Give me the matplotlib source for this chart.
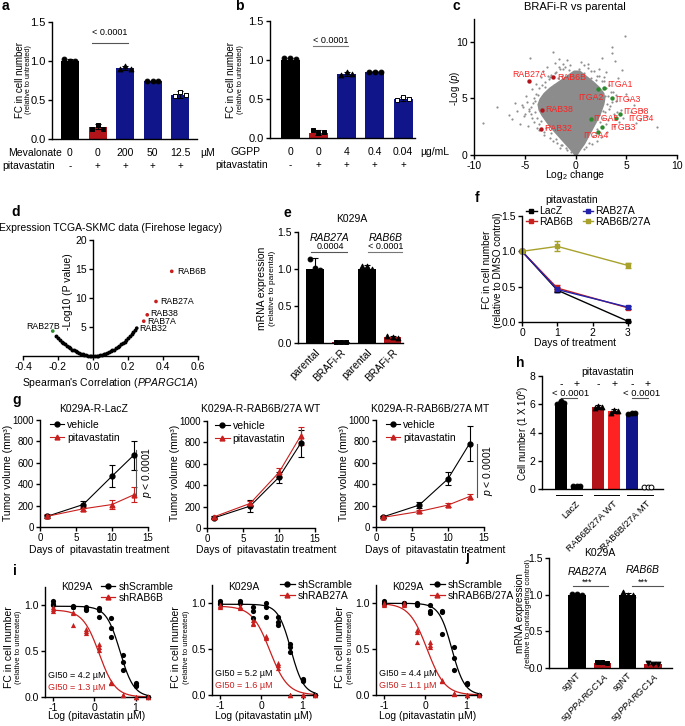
import numpy as np
import matplotlib
matplotlib.use("Agg")
import matplotlib.pyplot as plt
from matplotlib.lines import Line2D

plt.rcParams['font.family'] = ['Liberation Sans', 'DejaVu Sans']
plt.rcParams['font.size'] = 7.5
plt.rcParams['axes.unicode_minus'] = False
plt.rcParams['axes.linewidth'] = 1.0
plt.rcParams['xtick.major.size'] = 3
plt.rcParams['ytick.major.size'] = 3
plt.rcParams['xtick.major.width'] = 1.0
plt.rcParams['ytick.major.width'] = 1.0
plt.rcParams['xtick.major.pad'] = 1.5
plt.rcParams['ytick.major.pad'] = 1.5
plt.rcParams['xtick.labelsize'] = 7.5
plt.rcParams['ytick.labelsize'] = 7.5
plt.rcParams['mathtext.fontset'] = 'custom'
plt.rcParams['mathtext.rm'] = 'Liberation Sans'
plt.rcParams['mathtext.it'] = 'Liberation Sans:italic'

BLACK = 'k'
DRED = '#b3141a'
NAVY = '#10168a'
RED = '#c8201e'
BRED = '#ff2222'
OLIVE = '#a8a22c'
BLUE = '#2222aa'
GREEN = '#2b8a2b'

# ---- a: mevalonate rescue
a_mev = ['0', '0', '200', '50', '12.5']
a_pita = ['-', '+', '+', '+', '+']
a_mean = [1.0, 0.16, 0.91, 0.74, 0.57]
a_err = [0.02, 0.03, 0.03, 0.01, 0.04]
a_reps = [[1.02, 1.0, 1.0], [0.13, 0.18, 0.13], [0.9, 0.93, 0.9], [0.74, 0.74, 0.74], [0.55, 0.6, 0.57]]

# ---- b: GGPP rescue
b_ggpp = ['0', '0', '4', '0.4', '0.04']
b_pita = ['-', '+', '+', '+', '+']
b_mean = [1.0, 0.07, 0.82, 0.85, 0.5]
b_err = [0.02, 0.03, 0.03, 0.01, 0.02]
b_reps = [[1.03, 1.02, 1.01], [0.1, 0.07, 0.08], [0.81, 0.85, 0.82], [0.85, 0.85, 0.85], [0.49, 0.52, 0.5]]

# ---- c: volcano (dense core envelope + scattered proteins)
c_core_y = [0, 0.5, 1, 1.5, 2, 2.5, 3, 3.5, 4, 4.5, 5, 5.5, 6, 6.5, 7, 7.5]
c_core_left = [-0.15, -0.6, -1.1, -1.6, -2.1, -2.6, -3.0, -3.4, -3.7, -3.8, -3.6, -3.2, -2.6, -1.8, -1.0, -0.2]
c_core_right = [0.15, 0.5, 0.9, 1.2, 1.5, 1.8, 2.1, 2.4, 2.6, 2.8, 2.9, 2.8, 2.4, 1.8, 1.1, 0.4]
c_gx = [-9.1, -7.7, -6.6, -6.0, -6.3, -5.8, -5.5, -5.3, -5.1, -4.9, -4.7, -4.6, -4.5, -4.4, -4.3,
        -4.1, -4.0, -3.9, -3.8, -3.7, -3.6, -3.5, -3.4, -3.3, -3.2, -3.1, -3.0, -2.9, -2.8, -2.7,
        -2.6, -2.5, -2.4, -2.3, -2.2, -2.1, -2.0, -1.9, -1.8, -1.7, -1.6, -1.5, -1.4, -1.3, -1.2,
        -1.0, -0.9, -0.8, -0.6, -0.4,
        0.3, 0.5, 0.8, 1.0, 1.2, 1.5, 1.6, 1.8, 2.0, 2.1, 2.3, 2.6, 2.5, 2.8, 3.0, 3.1, 3.3, 3.6,
        3.6, 3.4, 3.7, 3.8, 3.9, 4.0, 4.2, 4.3, 4.5, 4.6, 4.7, 4.9, 5.0, 5.2, 5.3, 5.5, 5.8, 6.0,
        6.4, 6.6, 7.0, 8.0, 2.9, 3.2, 4.1, 2.7,
        -4.0, -4.2, -3.9, -3.6, -3.0, -2.5, -2.0, -1.2, -0.5, -3.4, -2.9, -2.4, -1.9, -1.3, -0.8,
        -4.4, -4.1, -3.3, -2.7, -1.6, -3.6, -3.1, -2.2, -1.5, -4.6, -4.8, -4.3, -3.8, -5.0, -5.2,
        2.9, 3.1, 3.2, 3.0, 2.6, 2.1, 1.5, 0.8, 2.4, 2.1, 1.7, 1.3, 0.8, 3.3, 3.5, 2.8, 2.3, 1.2,
        2.7, 2.0, 3.6, 3.8, 3.0, 4.0]
c_gy = [2.8, 4.2, 3.5, 4.6, 3.2, 3.9, 2.7, 4.4, 3.4, 5.2, 2.6, 4.1, 8.6, 3.6, 5.8,
        2.9, 4.8, 6.3, 3.3, 5.3, 2.2, 4.5, 6.9, 5.0, 7.4, 1.8, 6.0, 4.4, 7.8, 5.6,
        6.7, 1.5, 7.1, 5.2, 9.1, 6.2, 8.1, 7.3, 1.1, 6.8, 8.5, 7.6, 0.9, 7.0, 8.0,
        7.8, 0.6, 8.4, 7.5, 0.3,
        7.6, 8.2, 7.2, 0.7, 7.7, 6.8, 1.0, 7.4, 6.6, 1.2, 7.0, 8.6, 1.6, 6.5, 7.3, 2.0, 6.2, 9.5,
        9.0, 4.3, 5.6, 2.6, 8.3, 4.8, 6.8, 2.9, 4.0, 7.5, 3.3, 10.5, 5.4, 4.9, 2.4, 3.8, 4.4, 2.8,
        3.1, 4.0, 3.4, 2.5, 5.2, 3.1, 3.8, 3.9,
        3.8, 4.6, 5.4, 5.9, 6.4, 6.9, 7.2, 7.6, 7.9, 3.0, 2.4, 1.9, 1.4, 0.9, 0.4,
        4.2, 5.0, 6.2, 7.0, 7.8, 2.7, 2.0, 1.2, 0.6, 3.9, 4.7, 3.3, 2.4, 3.6, 4.2,
        3.8, 4.5, 5.2, 5.9, 6.5, 7.0, 7.4, 7.9, 2.9, 2.3, 1.7, 1.1, 0.5, 4.1, 5.6, 6.9, 7.6, 8.0,
        3.3, 1.9, 4.7, 3.6, 2.7, 5.3]
c_rab_names = ['RAB27A', 'RAB6B', 'RAB38', 'RAB32']
c_rab_x = [-4.6, -2.2, -3.3, -3.4]
c_rab_y = [6.5, 6.9, 4.0, 2.3]
c_itg_names = ['ITGA1', 'ITGA2', 'ITGA3', 'ITGB8', 'ITGB4', 'ITGA5', 'ITGB3', 'ITGA4']
c_itg_x = [2.8, 2.2, 3.6, 4.4, 4.0, 1.5, 2.6, 2.2]
c_itg_y = [5.9, 5.8, 5.0, 3.6, 3.3, 3.2, 2.5, 2.0]

# ---- d: TCGA correlation
d_corr = [-0.21, -0.20, -0.19, -0.18, -0.17, -0.16, -0.15, -0.14, -0.13, -0.12, -0.11, -0.10,
          -0.09, -0.08, -0.07, -0.06, -0.05, -0.04, -0.03, -0.02, -0.01, 0.0, 0.01, 0.02, 0.03,
          0.04, 0.05, 0.06, 0.07, 0.08, 0.09, 0.10, 0.11, 0.12, 0.13, 0.14, 0.15, 0.16, 0.17,
          0.18, 0.19, 0.20, 0.21, 0.22, 0.23, 0.24]
d_logp = [3.4, 3.1, 2.8, 2.5, 2.25, 2.0, 1.75, 1.5, 1.3, 1.1, 0.95, 0.78,
          0.63, 0.5, 0.38, 0.28, 0.2, 0.12, 0.07, 0.03, 0.01, 0.0, 0.01, 0.03, 0.07,
          0.12, 0.2, 0.28, 0.38, 0.5, 0.63, 0.78, 0.95, 1.1, 1.3, 1.5, 1.75, 2.0, 2.25,
          2.5, 2.8, 3.1, 3.4, 3.8, 4.1, 4.5]
d_hl_names = ['RAB6B', 'RAB27A', 'RAB38', 'RAB7A', 'RAB32', 'RAB27B']
d_hl_corr = [0.45, 0.36, 0.31, 0.29, 0.25, -0.23]
d_hl_logp = [14.6, 9.4, 7.1, 6.0, 4.8, 4.3]

# ---- e: qPCR parental vs BRAFi-R
e_labels = ['parental', 'BRAFi-R', 'parental', 'BRAFi-R']
e_mean = [1.0, 0.02, 1.0, 0.08]
e_err = [0.15, 0.01, 0.06, 0.02]
e_reps = [[1.13, 1.02, 0.98], [0.02, 0.02, 0.02], [1.04, 1.04, 1.0], [0.09, 0.08, 0.07]]

# ---- f: time course
f_days = [0, 1, 3]
f_names = ['LacZ', 'RAB6B', 'RAB27A', 'RAB6B/27A']
f_vals = [[1.0, 0.45, 0.01], [1.0, 0.48, 0.2], [1.0, 0.46, 0.21], [1.0, 1.07, 0.8]]
f_errs = [[0, 0.02, 0.01], [0, 0.04, 0.02], [0, 0.03, 0.02], [0, 0.07, 0.04]]

# ---- g: xenografts
g_days = [1, 6, 10, 13]
g_titles = ['K029A-R-LacZ', 'K029A-R-RAB6B/27A WT', 'K029A-R-RAB6B/27A MT']
g_veh = [[100, 210, 475, 670], [95, 205, 475, 790], [95, 205, 450, 780]]
g_veh_err = [[15, 35, 105, 135], [15, 55, 50, 130], [10, 30, 60, 160]]
g_pit = [[100, 170, 210, 300], [105, 230, 520, 860], [90, 145, 205, 285]]
g_pit_err = [[20, 20, 45, 70], [10, 20, 45, 80], [10, 15, 20, 25]]

# ---- h: cell numbers
h_groups = ['LacZ', 'RAB6B/27A WT', 'RAB6B/27A MT']
h_treat = ['-', '+', '-', '+', '-', '+']
h_mean = [6.1, 0.2, 5.8, 5.5, 5.3, 0.15]
h_err = [0.1, 0.02, 0.15, 0.15, 0.08, 0.02]
h_reps = [[6.05, 6.2, 6.1], [0.2, 0.2, 0.2], [5.75, 5.9, 5.8], [5.4, 5.6, 5.5], [5.3, 5.4, 5.35], [0.15, 0.15, 0.15]]

# ---- i: dose response
i_logc = [-1, -0.52, -0.2, 0.1, 0.4, 0.7, 1.0, 1.3]
i_kd_names = ['shRAB6B', 'shRAB27A', 'shRAB6B/27A']
i_scr = [
    [[1.05, 1.02, 1.0], [0.99, 0.98, 0.98], [0.98, 0.96, 0.95], [0.97, 0.95, 0.87], [0.86, 0.75, 0.65],
     [0.46, 0.38, 0.3], [0.15, 0.13, 0.12], [0.0, 0.0, 0.0]],
    [[1.03, 1.0, 0.99], [1.03, 1.0, 1.0], [0.96, 0.92, 0.84], [1.0, 0.96, 0.85], [0.85, 0.8, 0.76],
     [0.56, 0.52, 0.47], [0.17, 0.16, 0.15], [0.0, 0.0, 0.0]],
    [[1.03, 1.0, 0.99], [1.0, 1.0, 0.99], [1.0, 0.99, 0.98], [0.98, 0.92, 0.9], [0.92, 0.91, 0.67],
     [0.52, 0.4, 0.27], [0.13, 0.12, 0.12], [0.0, 0.0, 0.0]],
]
i_kd = [
    [[0.98, 0.96, 0.94], [0.93, 0.92, 0.79], [0.74, 0.72, 0.7], [0.58, 0.55, 0.51], [0.16, 0.15, 0.15],
     [0.02, 0.02, 0.02], [0.0, 0.0, 0.0], [0.0, 0.0, 0.0]],
    [[0.98, 0.97, 0.96], [0.97, 0.96, 0.95], [0.82, 0.79, 0.77], [0.64, 0.63, 0.62], [0.35, 0.33, 0.3],
     [0.0, 0.0, 0.0], [0.0, 0.0, 0.0], [0.0, 0.0, 0.0]],
    [[1.0, 0.99, 0.98], [1.0, 0.99, 0.98], [0.71, 0.69, 0.58], [0.58, 0.55, 0.52], [0.16, 0.15, 0.15],
     [0.02, 0.01, 0.01], [0.0, 0.0, 0.0], [0.0, 0.0, 0.0]],
]
# fitted curve parameters: top, GI50 (uM), hill
i_scr_fit = [(0.99, 4.2, 2.6), (0.99, 5.2, 2.8), (1.0, 4.4, 2.8)]
i_kd_fit = [(0.95, 1.3, 2.2), (0.97, 1.6, 2.0), (1.0, 1.1, 2.0)]

# ---- j: sgPPARGC1A qPCR
j_labels = ['sgNT', 'sg$\\it{PPARGC1A}$', 'sgNT', 'sg$\\it{PPARGC1A}$']
j_mean = [1.0, 0.07, 1.0, 0.06]
j_err = [0.01, 0.01, 0.02, 0.01]
j_reps = [[1.01, 1.01, 1.0], [0.08, 0.08, 0.07], [1.03, 1.0, 1.0], [0.07, 0.05, 0.06]]

W, H = 685, 726
fig = plt.figure(figsize=(W / 100, H / 100), dpi=100)


def add_ax(x0, y0, x1, y1):
    ax = fig.add_axes([x0 / W, 1 - y1 / H, (x1 - x0) / W, (y1 - y0) / H])
    ax.spines['top'].set_visible(False)
    ax.spines['right'].set_visible(False)
    return ax


def ftext(x, y, s, **kw):
    kw.setdefault('ha', 'center')
    kw.setdefault('va', 'center')
    fig.text(x / W, 1 - y / H, s, **kw)


def ylab(x, y, main, sub=None, gap=10, fs=7, fs2=5.2):
    ftext(x, y, main, rotation=90, fontsize=fs)
    if sub:
        ftext(x + gap, y, sub, rotation=90, fontsize=fs2)


def draw_bars(ax, xs, means, errs, reps, colors, markers, fills, width, off=0.2):
    ax.bar(xs, means, width, color=colors, zorder=1)
    ax.errorbar(xs, means, yerr=errs, fmt='none', ecolor='k', elinewidth=0.8,
                capsize=2, capthick=0.8, zorder=2)
    for x, r, m, f in zip(xs, reps, markers, fills):
        ax.scatter(np.array([-off, 0, off]) + x, r, marker=m, s=12,
                   facecolor='k' if f else 'white', edgecolor='k', linewidth=0.7,
                   zorder=3, clip_on=False)


def hill(logc, top, gi50, n):
    return top / (1 + 10 ** ((logc - np.log10(gi50)) * n))


# panel letters
for s, x, y in [('a', 5, 6), ('b', 239, 6), ('c', 456, 6), ('d', 16, 212), ('e', 287, 213),
                ('f', 477, 198), ('g', 17, 400), ('h', 520, 363), ('i', 15, 571), ('j', 467, 557)]:
    ftext(x, y, s, fontsize=10, fontweight='bold')

# ---------------- a
ax = add_ax(52, 22, 197, 139)
xs = np.arange(len(a_mean))
draw_bars(ax, xs, a_mean, a_err, a_reps, [BLACK, DRED, NAVY, NAVY, NAVY],
          ['o', 's', '^', 'o', 's'], [1, 1, 1, 1, 0], 0.65)
ax.set_xlim(-0.65, 4.6)
ax.set_ylim(0, 1.5)
ax.set_yticks([0, 0.5, 1.0, 1.5])
ax.set_yticklabels(['0.0', '0.5', '1.0', '1.5'], fontsize=8)
ax.set_xticks([])
tr = ax.get_xaxis_transform()
for x, m, p in zip(xs, a_mev, a_pita):
    ax.text(x, -0.12, m, transform=tr, ha='center', va='center', fontsize=7.5)
    ax.text(x, -0.23, p, transform=tr, ha='center', va='center', fontsize=7)
ax.text(-0.3, -0.12, 'Mevalonate', transform=tr, ha='right', va='center', fontsize=7.5)
ax.text(-0.55, -0.23, 'pitavastatin', transform=tr, ha='right', va='center', fontsize=7.5)
ax.text(4.72, -0.12, 'µM', transform=tr, ha='left', va='center', fontsize=7.5)
ax.plot([0.8, 2.1], [1.23, 1.23], color='#555555', lw=0.8, clip_on=False)
ax.text(1.45, 1.36, '< 0.0001', ha='center', va='center', fontsize=6.5)
ylab(20, 80, 'FC in cell number', '(relative to untreated)', gap=9)

# ---------------- b
ax = add_ax(270, 21, 415, 138)
xs = np.arange(len(b_mean))
draw_bars(ax, xs, b_mean, b_err, b_reps, [BLACK, DRED, NAVY, NAVY, NAVY],
          ['o', 's', '^', 'o', 's'], [1, 1, 1, 1, 0], 0.67)
ax.set_xlim(-0.71, 4.42)
ax.set_ylim(0, 1.5)
ax.set_yticks([0, 0.5, 1.0, 1.5])
ax.set_yticklabels(['0.0', '0.5', '1.0', '1.5'], fontsize=8)
ax.set_xticks([])
tr = ax.get_xaxis_transform()
for x, m, p in zip(xs, b_ggpp, b_pita):
    ax.text(x, -0.12, m, transform=tr, ha='center', va='center', fontsize=7.5)
    ax.text(x, -0.23, p, transform=tr, ha='center', va='center', fontsize=7)
ax.text(-1.06, -0.12, 'GGPP', transform=tr, ha='right', va='center', fontsize=7.5)
ax.text(-0.8, -0.23, 'pitavastatin', transform=tr, ha='right', va='center', fontsize=7.5)
ax.text(4.6, -0.12, 'µg/mL', transform=tr, ha='left', va='center', fontsize=7.5)
ax.plot([0.8, 2.05], [1.18, 1.18], color='#777777', lw=0.8, clip_on=False)
ax.text(1.42, 1.25, '< 0.0001', ha='center', va='center', fontsize=6.5)
ylab(231, 80, 'FC in cell number', '(relative to untreated)', gap=9)

# ---------------- c
ax = add_ax(474, 19, 677, 155)
ax.fill_betweenx(c_core_y, c_core_left, c_core_right, color='#8c8c8c', lw=0, zorder=1)
ax.scatter(c_gx, c_gy, s=2.5, color='#8f8f8f', lw=0, zorder=1)
ax.scatter(c_rab_x, c_rab_y, s=10, color=DRED, lw=0, zorder=3)
ax.scatter(c_itg_x, c_itg_y, s=10, color=GREEN, lw=0, zorder=3)
c_rab_off = [((0, 7), 'center'), ((4, -1), 'left'), ((3, 0), 'left'), ((3, 0), 'left')]
c_itg_off = [((3, 4), 'left'), ((6, -8), 'right'), ((3, -1), 'left'), ((3, 3), 'left'),
             ((12, -1), 'left'), ((3, 0), 'left'), ((8, -1), 'left'), ((-2, -3), 'center')]
for n, x, y, (o, ha) in zip(c_rab_names + c_itg_names, c_rab_x + c_itg_x, c_rab_y + c_itg_y,
                           c_rab_off + c_itg_off):
    ax.annotate(n, (x, y), xytext=o, textcoords='offset pixels', ha=ha,
                va='center', color=BRED, fontsize=6.3, zorder=4)
ax.set_xlim(-10, 10)
ax.set_ylim(0, 12)
ax.set_xticks([-10, -5, 0, 5, 10])
ax.set_yticks([0, 5, 10])
ftext(575, 7, 'BRAFi-R vs parental', fontsize=8)
ftext(575, 175, 'Log$_2$ change', fontsize=7.5)
ylab(455, 88, '-Log ($p$)', fs=7)

# ---------------- d
ax = add_ax(23, 240, 198, 356)
ax.scatter(d_corr, d_logp, s=8, color='k', lw=0, clip_on=False)
d_cols = [RED, RED, RED, RED, 'k', GREEN]
d_off = [((5, 0), 'left'), ((4, 0), 'left'), ((3, 1), 'left'), ((3, 0), 'left'),
         ((3, 0), 'left'), ((-10, 5), 'center')]
ax.scatter(d_hl_corr, d_hl_logp, s=7, color=d_cols, lw=0, zorder=3)
for n, x, y, (o, ha) in zip(d_hl_names, d_hl_corr, d_hl_logp, d_off):
    ax.annotate(n, (x, y), xytext=o, textcoords='offset pixels', ha=ha, va='center', fontsize=6.3)
ax.spines['left'].set_position(('data', 0))
ax.set_xlim(-0.4, 0.6)
ax.set_ylim(0, 20)
ax.set_yticks([5, 10, 15, 20])
ax.set_xticks([-0.4, -0.2, 0, 0.2, 0.4, 0.6])
ax.set_xticklabels(['-0.4', '-0.2', '0.0', '0.2', '0.4', '0.6'])
ftext(111, 228, 'Expression TCGA-SKMC data (Firehose legacy)', fontsize=7.5)
ftext(110, 383, "Spearman's Correlation ($\\it{PPARGC1A}$)", fontsize=7.5)
ylab(68, 292, '-Log10 (P value)', fs=7.5)

# ---------------- e
ax = add_ax(298, 232, 403, 343)
xs = np.arange(len(e_mean))
draw_bars(ax, xs, e_mean, e_err, e_reps, [BLACK, DRED, BLACK, DRED],
          ['o', 's', '^', '^'], [1, 1, 1, 1], 0.68)
ax.set_xlim(-0.65, 3.4)
ax.set_ylim(0, 1.5)
ax.set_yticks([0, 0.5, 1.0, 1.5])
ax.set_yticklabels(['0.0', '0.5', '1.0', '1.5'])
ax.set_xticks(xs)
ax.set_xticklabels(e_labels, rotation=45, ha='right', rotation_mode='anchor')
ax.tick_params(axis='x', length=0, pad=3)
ax.text(0.58, 1.42, 'RAB27A', style='italic', ha='center', va='center')
ax.text(0.58, 1.30, '0.0004', ha='center', va='center', fontsize=6.5)
ax.plot([-0.15, 1.23], [1.23, 1.23], color='#555555', lw=0.8)
ax.text(2.73, 1.42, 'RAB6B', style='italic', ha='center', va='center')
ax.text(2.73, 1.30, '< 0.0001', ha='center', va='center', fontsize=6.5)
ax.plot([2.04, 3.38], [1.23, 1.23], color='#777777', lw=0.8, clip_on=False)
ftext(352, 219, 'K029A', fontsize=7.5)
ylab(262, 288, 'mRNA expression', '(relative to parental)', gap=11, fs=7.5, fs2=6)

# ---------------- f
ax = add_ax(522, 216, 628, 322)
f_cols = [BLACK, RED, BLUE, OLIVE]
for v, e, c, n in zip(f_vals, f_errs, f_cols, f_names):
    ax.errorbar(f_days, v, yerr=e, color=c, lw=1.0, marker='s', ms=2.2, capsize=2.5,
                elinewidth=1.0, capthick=1.0, clip_on=False)
ax.set_xlim(0, 3)
ax.set_ylim(0, 1.5)
ax.set_xticks([0, 1, 2, 3])
ax.set_yticks([0, 0.5, 1.0, 1.5])
ax.set_yticklabels(['0.0', '0.5', '1.0', '1.5'])
hs = [Line2D([], [], color=c, lw=1.0, marker='s', ms=2.2) for c in f_cols]
ax.legend(hs, f_names, ncol=2, loc='upper left', bbox_to_anchor=(0.04, 1.09), frameon=False,
          handlelength=1.0, handletextpad=0.25, labelspacing=0.05, columnspacing=0.9,
          borderpad=0, borderaxespad=0, fontsize=7.5)
ftext(572, 200, 'pitavastatin', fontsize=7.5)
ftext(575, 343, 'Days of treatment', fontsize=7.5)
ylab(487, 270, 'FC in cell number', '(relative to DMSO control)', gap=11, fs=7.2, fs2=7.2)

# ---------------- g
g_boxes = [(40, 420, 148, 527), (207, 421, 315, 528), (376, 420, 484, 527)]
g_leg_x = [0.09, 0.074, 0.09]
g_pline = [(13.3, 720, 300), None, (14.0, 780, 285)]
for k in range(3):
    x0, y0, x1, y1 = g_boxes[k]
    ax = add_ax(x0, y0, x1, y1)
    ax.errorbar(g_days, g_veh[k], yerr=g_veh_err[k], color='k', lw=0.8, marker='o', ms=3.5,
                capsize=2.5, elinewidth=0.8, capthick=0.8)
    ax.errorbar(g_days, g_pit[k], yerr=g_pit_err[k], color=RED, lw=0.8, marker='^', ms=3.5,
                capsize=2.5, elinewidth=0.8, capthick=0.8)
    ax.set_xlim(0, 15)
    ax.set_ylim(0, 1000)
    ax.set_xticks([0, 5, 10, 15])
    ax.set_yticks([0, 200, 400, 600, 800, 1000])
    ax.tick_params(labelsize=7)
    hs = [Line2D([], [], color='k', lw=0.8, marker='o', ms=3.5),
          Line2D([], [], color=RED, lw=0.8, marker='^', ms=3.5)]
    ax.legend(hs, ['vehicle', 'pitavastatin'], loc='upper left',
              bbox_to_anchor=(g_leg_x[k], 1.0), frameon=False,
              handlelength=1.4, handletextpad=0.3, labelspacing=0.25, borderpad=0,
              borderaxespad=0, fontsize=7.5)
    if g_pline[k]:
        px, ptop, pbot = g_pline[k]
        ax.plot([px, px], [ptop, pbot], color='#555555', lw=0.8, clip_on=False)
        ax.text(px + 1.5, (ptop + pbot) / 2, '$\\it{p}$ < 0.0001', rotation=90,
                ha='center', va='center', fontsize=7.5)
    xc = (x0 + x1) / 2
    ftext(xc, 409, g_titles[k], fontsize=7.5)
    ftext(xc + 5, 550, 'Days of  pitavastatin treatment', fontsize=7.5)
    ylab(x0 - 32, 473, 'Tumor volume (mm³)', fs=7.5)

# ---------------- h
ax = add_ax(542, 376, 663, 489)
h_x = np.array([0, 1, 2.35, 3.35, 4.45, 5.45])
draw_bars(ax, h_x, h_mean, h_err, h_reps, [BLACK, BLACK, DRED, BRED, NAVY, NAVY],
          ['o', 'o', '^', '^', 'o', 'o'], [1, 1, 1, 1, 1, 0], 0.75, off=0.22)
ax.set_xlim(-1.19, 6.4)
ax.set_ylim(0, 8)
ax.set_yticks([0, 2, 4, 6, 8])
ax.set_xticks([])
for x, t in zip(h_x, h_treat):
    ax.text(x, 7.4, t, ha='center', va='center', fontsize=7.5)
ax.text(2.9, 8.25, 'pitavastatin', ha='center', va='center', fontsize=7.5)
for xa, xb in [(h_x[0], h_x[1]), (h_x[4], h_x[5])]:
    ax.plot([xa, xb], [6.45, 6.45], color='#555555', lw=0.8)
    ax.text((xa + xb) / 2 + 0.1, 6.75, '< 0.0001', ha='center', va='center', fontsize=6.8)
tr = ax.get_xaxis_transform()
for g in range(3):
    xa, xb = h_x[2 * g], h_x[2 * g + 1]
    ax.plot([xa - 0.3, xb + 0.3], [-0.05, -0.05], transform=tr, color='k', lw=0.7, clip_on=False)
    ax.text((xa + xb) / 2 + 0.4, -0.09, h_groups[g], transform=tr, rotation=45, ha='right',
            va='top', rotation_mode='anchor', fontsize=6.8)
ylab(523, 433, 'Cell number (1 X 10$^6$)', fs=7)

# ---------------- i
i_boxes = [(45, 587, 150, 697), (212, 585, 317, 695), (376, 585, 481, 695)]
i_leg_x = [0.53, 0.648, 0.514]
xfit = np.linspace(-1, 1.3, 200)
for k in range(3):
    x0, y0, x1, y1 = i_boxes[k]
    ax = add_ax(x0, y0, x1, y1)
    for xv, reps in zip(i_logc, i_scr[k]):
        ax.scatter([xv] * 3, reps, s=14, color='k', marker='o', lw=0, clip_on=False, zorder=3)
    for xv, reps in zip(i_logc, i_kd[k]):
        ax.scatter([xv] * 3, reps, s=14, color=RED, marker='^', lw=0, clip_on=False, zorder=3)
    t, g50, n = i_scr_fit[k]
    ax.plot(xfit, hill(xfit, t, g50, n), color='k', lw=0.9)
    t2, g502, n2 = i_kd_fit[k]
    ax.plot(xfit, hill(xfit, t2, g502, n2), color=RED, lw=0.9)
    ax.set_xlim(-1.2, 1.35)
    ax.set_ylim(0, 1.2)
    ax.set_xticks([-1, 0, 1])
    ax.set_yticks([0, 0.5, 1.0])
    ax.set_yticklabels(['0.0', '0.5', '1.0'])
    hs = [Line2D([], [], color='k', marker='o', ms=3.5, lw=0.9),
          Line2D([], [], color=RED, marker='^', ms=3.5, lw=0.9)]
    ax.legend(hs, ['shScramble', i_kd_names[k]], loc='upper left',
              bbox_to_anchor=(i_leg_x[k], 1.05), frameon=False, handlelength=1.4,
              handletextpad=0.3, labelspacing=0.15, borderpad=0, borderaxespad=0, fontsize=7.5)
    ax.text(0.03, 0.2, 'GI50 = %.1f µM' % g50, transform=ax.transAxes, fontsize=6.5,
            ha='left', va='center')
    ax.text(0.03, 0.09, 'GI50 = %.1f µM' % g502, transform=ax.transAxes, fontsize=6.5,
            ha='left', va='center', color=RED)
    ftext(x0 + 32, 587, 'K029A', fontsize=7.5)
    ftext(x0 + 52, 716, 'Log (pitavastatin µM)', fontsize=7.5)
    ylab(x0 - 36, 647, 'FC in cell number', '(relative to untreated)', gap=10, fs=7.5, fs2=5.5)

# ---------------- j
ax = add_ax(549, 558, 672, 668)
xs = np.arange(len(j_mean))
draw_bars(ax, xs, j_mean, j_err, j_reps, [BLACK, DRED, BLACK, DRED],
          ['o', 's', '^', 'v'], [1, 1, 1, 1], 0.68)
ax.set_xlim(-1.1, 3.75)
ax.set_ylim(0, 1.5)
ax.set_yticks([0, 0.5, 1.0, 1.5])
ax.set_yticklabels(['0.0', '0.5', '1.0', '1.5'])
ax.set_xticks(xs)
ax.set_xticklabels(j_labels, rotation=45, ha='right', rotation_mode='anchor', fontsize=6.8)
ax.tick_params(axis='x', length=0, pad=2)
ax.text(0.4, 1.31, 'RAB27A', style='italic', ha='center', va='center')
ax.text(0.4, 1.17, '***', ha='center', va='center', fontsize=6.5)
ax.plot([-0.16, 1.22], [1.12, 1.12], color='#555555', lw=0.8)
ax.text(2.6, 1.33, 'RAB6B', style='italic', ha='center', va='center')
ax.text(2.6, 1.17, '***', ha='center', va='center', fontsize=6.5)
ax.plot([2.17, 3.4], [1.12, 1.12], color='#555555', lw=0.8, clip_on=False)
ftext(600, 553, 'K029A', fontsize=7.5)
ylab(520, 613, 'mRNA expression', '(relative to nontargeting control)', gap=9, fs=7.2, fs2=5.5)

fig.savefig('out.png', dpi=100)
